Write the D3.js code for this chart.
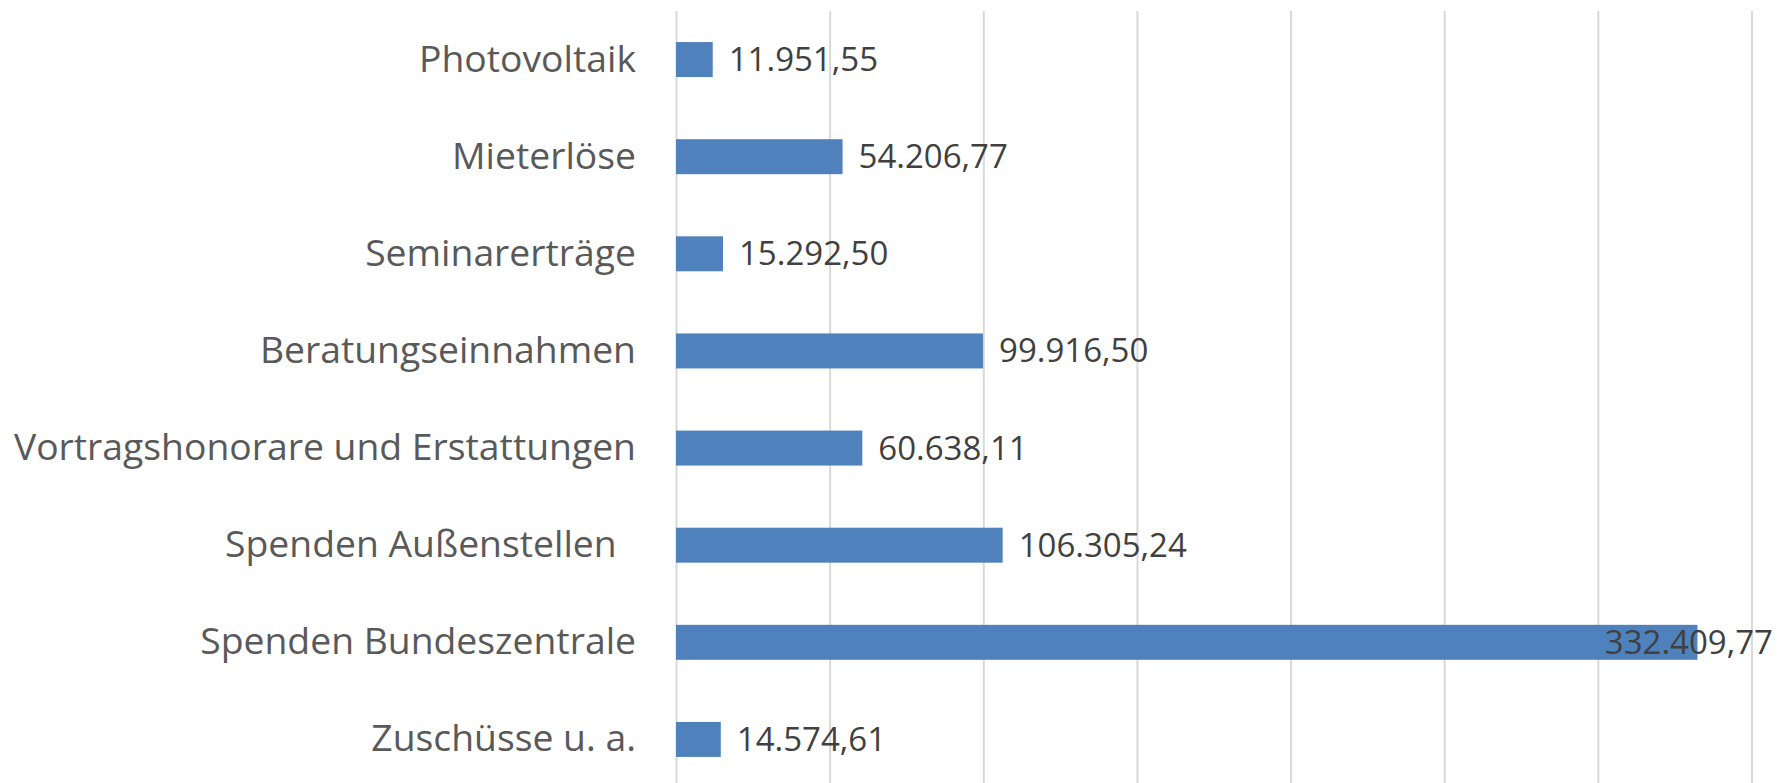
<!DOCTYPE html>
<html lang="de">
<head>
    <meta charset="UTF-8">
    <title>Einnahmen</title>
    <style>
        body {
            margin: 0;
            padding: 0;
            background-color: #fff;
        }

        svg {
            display: block;
        }

        .cat-axis text {
            font-family: "Open Sans", sans-serif;
            font-size: 37.3px;
            fill: #595959;
        }

        .value-label {
            font-family: "Open Sans", sans-serif;
            font-size: 33px;
            fill: #404040;
        }
    </style>
</head>
<body>

<svg width="1782" height="783" id="chart"></svg>

<script src="https://d3js.org/d3.v7.min.js"></script>
<script>
    // Kategorien von oben nach unten
    const categories = [
        "Photovoltaik",
        "Mieterlöse",
        "Seminarerträge",
        "Beratungseinnahmen",
        "Vortragshonorare und Erstattungen",
        "Spenden Außenstellen\u00A0\u00A0",
        "Spenden Bundeszentrale",
        "Zuschüsse u. a."
    ];

    const values = [11951.55, 54206.77, 15292.50, 99916.50, 60638.11, 106305.24, 332409.77, 14574.61];

    const xTicks = [0, 50000, 100000, 150000, 200000, 250000, 300000, 350000];

    const data = categories.map((c, i) => ({ category: c, value: values[i] }));

    const svg = d3.select("#chart");

    const margin = { top: 11, right: 30, bottom: -5, left: 676 };
    const height = 783 - margin.top - margin.bottom;
    const labelLimit = 1773; // rechter Rand fuer Wertebeschriftungen

    const de = d3.formatLocale({ decimal: ",", thousands: ".", grouping: [3], currency: ["", " €"] });
    const fmt = de.format(",.2f");

    const xScale = d3.scaleLinear()
        .domain([0, 350000])
        .range([0, 1075.5]);

    const yScale = d3.scaleBand()
        .domain(categories)
        .range([0, height])
        .paddingInner(0.64)
        .paddingOuter(0.32);

    const g = svg.append("g")
        .attr("transform", `translate(${margin.left},${margin.top})`);

    // Gitterlinien
    g.append("g")
        .attr("class", "grid")
        .attr("transform", `translate(0,${height})`)
        .call(d3.axisBottom(xScale).tickValues(xTicks).tickSize(-height).tickFormat(""))
        .call(sel => sel.select(".domain").remove())
        .call(sel => sel.selectAll("line").attr("stroke", "#d9d9d9").attr("stroke-width", 2));

    // Balken
    g.selectAll("rect.bar")
        .data(data)
        .enter().append("rect")
        .attr("class", "bar")
        .attr("x", xScale(0))
        .attr("y", d => yScale(d.category))
        .attr("width", d => xScale(d.value) - xScale(0))
        .attr("height", yScale.bandwidth())
        .attr("fill", "#4f81bd");

    // Kategorien
    g.append("g")
        .attr("class", "cat-axis")
        .call(d3.axisLeft(yScale).tickSize(0).tickPadding(40))
        .call(sel => sel.select(".domain").remove())
        .call(sel => sel.selectAll("text").style("white-space", "pre"));

    // Wertebeschriftungen
    g.selectAll("text.value-label")
        .data(data)
        .enter().append("text")
        .attr("class", "value-label")
        .attr("y", d => yScale(d.category) + yScale.bandwidth() / 2)
        .attr("dy", "0.35em")
        .text(d => fmt(d.value))
        .attr("x", function (d) {
            const start = xScale(d.value) + 16;
            const w = this.getComputedTextLength();
            const maxStart = labelLimit - margin.left - w;
            return Math.min(start, maxStart);
        });
</script>

</body>
</html>
